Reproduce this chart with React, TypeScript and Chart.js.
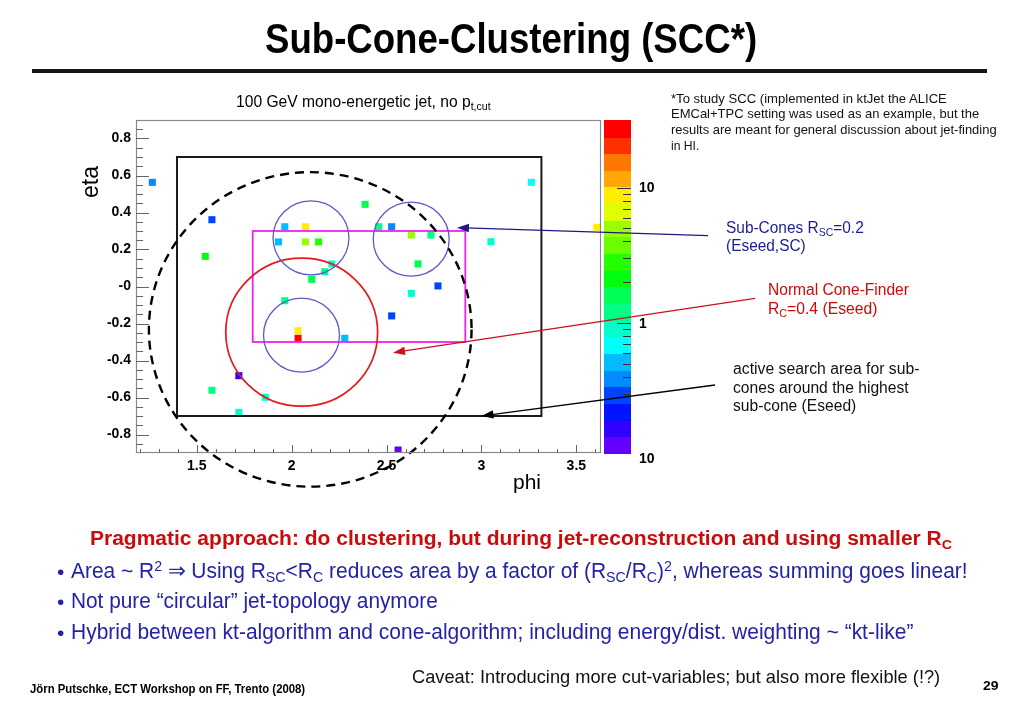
import React, { useEffect, useLayoutEffect, useRef, useState } from 'react';
import { Chart, registerables } from 'chart.js';

Chart.register(...registerables);

// ---------------- data ----------------
const PHI = [1.266, 1.580, 1.545, 1.964, 2.073, 1.931, 2.073, 2.142, 2.212, 2.175, 2.106, 2.387, 3.263, 2.459, 2.527, 2.631,
  2.734, 3.050, 2.666, 2.771, 3.608, 2.631, 2.527, 2.561, 1.964, 2.034, 2.034, 2.280, 1.722, 1.580, 1.861, 1.722];
const ETA = [0.563, 0.361, 0.163, 0.323, 0.323, 0.241, 0.241, 0.241, 0.122, 0.080, 0.039, 0.444, 0.563, 0.323, 0.323, 0.278,
  0.278, 0.242, 0.122, 0.003, 0.320, -0.037, -0.159, -0.884, -0.077, -0.239, -0.280, -0.280, -0.482, -0.561, -0.599, -0.680];
const ENERGY = [0.39, 0.29, 2.1, 0.52, 8.8, 0.52, 5.0, 2.8, 0.91, 1.2, 1.6, 1.6, 0.69, 1.2, 0.39, 5.0,
  1.2, 0.91, 1.6, 0.29, 8.8, 0.91, 0.33, 0.13, 1.2, 8.8, 27, 0.52, 0.17, 1.2, 0.91, 0.9];

const X_TICK_VALUES = [1.5, 2, 2.5, 3, 3.5];
const X_TICK_LABELS = ['1.5', '2', '2.5', '3', '3.5'];
const Y_TICK_VALUES = [-0.8, -0.6, -0.4, -0.2, 0, 0.2, 0.4, 0.6, 0.8];
const Y_TICK_LABELS = ['-0.8', '-0.6', '-0.4', '-0.2', '-0', '0.2', '0.4', '0.6', '0.8'];
const Z_TICK_VALUES = [10, 1, 0.1];
const Z_TICK_LABELS = ['10', '1', '10'];

const PHI_RANGE = [1.18, 3.63];
const ETA_RANGE = [-0.9, 0.9];
const Z_RANGE = [0.109, 31.6];
const N_CONTOURS = 20;

// geometry of the overlays (data units)
const EMCAL_PHI = [1.396, 3.316];
const EMCAL_ETA = [-0.7, 0.7];
const SEARCH_PHI = [1.795, 2.915];
const SEARCH_ETA = [-0.3, 0.3];
const SUBCONE_PHI = [2.102, 2.630, 2.052];
const SUBCONE_ETA = [0.263, 0.256, -0.263];
const R_SC = 0.2;
const CONE_PHI = 2.053;
const CONE_ETA = -0.247;
const R_C = 0.4;
const OUTER_PHI = 2.098;
const OUTER_ETA = -0.232;
const R_OUTER = 0.85;
// arrow tips in data units
const ARROW_TIP_PHI = [2.871, 2.534, 3.0];
const ARROW_TIP_ETA = [0.318, -0.358, -0.70];

const FONT = '"Liberation Sans", Arial, Helvetica, sans-serif';
const NARROW = '"Liberation Sans Narrow", "Liberation Sans", Arial, sans-serif';

function bandColor(i: number) {
  const idx = Math.floor(((i + 0.99) * 50) / N_CONTOURS);
  const hue = 280 - (idx + 1) * 5.6;
  return `hsl(${hue.toFixed(1)}, 100%, 50%)`;
}
function zBand(z: number) {
  const lo = Math.log10(Z_RANGE[0]);
  const hi = Math.log10(Z_RANGE[1]);
  const t = (Math.log10(z) - lo) / (hi - lo);
  return Math.max(0, Math.min(N_CONTOURS - 1, Math.floor(t * N_CONTOURS)));
}

function drawArrow(ctx: CanvasRenderingContext2D, x0: number, y0: number, x1: number, y1: number, color: string) {
  const a = Math.atan2(y1 - y0, x1 - x0);
  const L = 12, H = 4.2;
  const c = Math.cos(a), s = Math.sin(a);
  ctx.strokeStyle = color;
  ctx.fillStyle = color;
  ctx.lineWidth = 1.3;
  ctx.beginPath();
  ctx.moveTo(x0, y0);
  ctx.lineTo(x1 - L * 0.7 * c, y1 - L * 0.7 * s);
  ctx.stroke();
  ctx.beginPath();
  ctx.moveTo(x1, y1);
  ctx.lineTo(x1 - L * c + H * s, y1 - L * s - H * c);
  ctx.lineTo(x1 - L * c - H * s, y1 - L * s + H * c);
  ctx.closePath();
  ctx.fill();
}

const overlayPlugin = {
  id: 'overlay',
  afterDatasetsDraw(chart: any) {
    const { ctx, scales } = chart;
    const sx = scales.x, sy = scales.y;
    const X = (v: number) => sx.getPixelForValue(v);
    const Y = (v: number) => sy.getPixelForValue(v);
    const kx = Math.abs(X(1) - X(0));
    const ky = Math.abs(Y(1) - Y(0));
    ctx.save();
    ctx.strokeStyle = '#1a1a1a';
    ctx.lineWidth = 2;
    ctx.strokeRect(X(EMCAL_PHI[0]), Y(EMCAL_ETA[1]), X(EMCAL_PHI[1]) - X(EMCAL_PHI[0]), Y(EMCAL_ETA[0]) - Y(EMCAL_ETA[1]));
    ctx.strokeStyle = '#f020f0';
    ctx.lineWidth = 1.8;
    ctx.strokeRect(X(SEARCH_PHI[0]), Y(SEARCH_ETA[1]), X(SEARCH_PHI[1]) - X(SEARCH_PHI[0]), Y(SEARCH_ETA[0]) - Y(SEARCH_ETA[1]));
    ctx.strokeStyle = '#e81818';
    ctx.lineWidth = 1.7;
    ctx.beginPath();
    ctx.ellipse(X(CONE_PHI), Y(CONE_ETA), R_C * kx, R_C * ky, 0, 0, Math.PI * 2);
    ctx.stroke();
    ctx.strokeStyle = '#5a5ac8';
    ctx.lineWidth = 1.3;
    for (let i = 0; i < SUBCONE_PHI.length; i++) {
      ctx.beginPath();
      ctx.ellipse(X(SUBCONE_PHI[i]), Y(SUBCONE_ETA[i]), R_SC * kx, R_SC * ky, 0, 0, Math.PI * 2);
      ctx.stroke();
    }
    ctx.strokeStyle = '#000';
    ctx.lineWidth = 2.4;
    ctx.setLineDash([9, 6]);
    ctx.beginPath();
    ctx.ellipse(X(OUTER_PHI), Y(OUTER_ETA), R_OUTER * kx, R_OUTER * ky, 0, 0, Math.PI * 2);
    ctx.stroke();
    ctx.setLineDash([]);
    ctx.restore();
  },
  afterDraw(chart: any) {
    const { ctx, chartArea: a, scales } = chart;
    const sx = scales.x, sy = scales.y;
    ctx.save();
    ctx.strokeStyle = '#8a8a8a';
    ctx.lineWidth = 1.2;
    ctx.strokeRect(a.left + 0.5, a.top + 0.5, a.right - a.left - 1, a.bottom - a.top - 1);
    ctx.strokeStyle = '#666';
    ctx.lineWidth = 1;
    ctx.beginPath();
    for (let k = -17; k <= 17; k++) {
      const py = Math.round(sy.getPixelForValue(k * 0.05)) + 0.5;
      const len = k % 4 === 0 ? 13 : 7;
      ctx.moveTo(a.left, py);
      ctx.lineTo(a.left + len, py);
    }
    for (let k = 12; k <= 36; k++) {
      const px = Math.round(sx.getPixelForValue(k * 0.1)) + 0.5;
      const len = k % 5 === 0 ? 8 : 4;
      ctx.moveTo(px, a.bottom);
      ctx.lineTo(px, a.bottom - len);
    }
    ctx.stroke();

    // colour bar
    const cbL = a.right + 3, cbR = a.right + 30;
    const h = (a.bottom - a.top) / N_CONTOURS;
    for (let i = 0; i < N_CONTOURS; i++) {
      ctx.fillStyle = bandColor(i);
      const y0 = a.bottom - (i + 1) * h;
      ctx.fillRect(cbL, Math.floor(y0), cbR - cbL, Math.ceil(h) + 1);
    }
    const lo = Math.log10(Z_RANGE[0]), hi = Math.log10(Z_RANGE[1]);
    const ZY = (z: number) => a.bottom - ((Math.log10(z) - lo) / (hi - lo)) * (a.bottom - a.top);
    ctx.strokeStyle = '#333';
    ctx.lineWidth = 1;
    ctx.beginPath();
    for (const dec of [0.1, 1]) {
      for (let m = 1; m <= 9; m++) {
        const z = dec * m;
        if (z < Z_RANGE[0]) continue;
        const py = Math.round(ZY(z)) + 0.5;
        const len = m === 1 ? 14 : 8;
        ctx.moveTo(cbR, py);
        ctx.lineTo(cbR - len, py);
      }
    }
    const py10 = Math.round(ZY(10)) + 0.5;
    ctx.moveTo(cbR, py10);
    ctx.lineTo(cbR - 14, py10);
    ctx.stroke();
    ctx.fillStyle = '#000';
    ctx.font = `bold 14px ${FONT}`;
    ctx.textAlign = 'left';
    ctx.textBaseline = 'middle';
    Z_TICK_VALUES.forEach((z, i) => {
      ctx.fillText(Z_TICK_LABELS[i], cbR + 8, ZY(z) + 1);
    });

    // axis titles
    ctx.font = `21px ${FONT}`;
    ctx.textAlign = 'center';
    ctx.fillText('phi', 527, 483);
    ctx.save();
    ctx.translate(92, 182);
    ctx.rotate(-Math.PI / 2);
    ctx.font = `23px ${FONT}`;
    ctx.fillText('eta', 0, 0);
    ctx.restore();

    const tails = [[708, 235.7], [755, 298.3], [715, 385]];
    const colors = ['#1a1a80', '#cc1020', '#000000'];
    for (let i = 0; i < 3; i++) {
      drawArrow(ctx, tails[i][0], tails[i][1], sx.getPixelForValue(ARROW_TIP_PHI[i]), sy.getPixelForValue(ARROW_TIP_ETA[i]), colors[i]);
    }
    ctx.restore();
  },
};

function ChartCanvas() {
  const ref = useRef<HTMLCanvasElement>(null);
  useEffect(() => {
    if (!ref.current) return;
    Chart.defaults.font.family = FONT;
    const points = PHI.map((p, i) => ({ x: p, y: ETA[i] }));
    const colors = ENERGY.map((e) => bandColor(zBand(e)));
    const chart = new Chart(ref.current, {
      type: 'scatter',
      data: {
        datasets: [
          {
            data: points,
            backgroundColor: colors,
            borderWidth: 0,
            pointStyle: 'rect',
            pointRadius: 5,
            pointHoverRadius: 5,
          },
        ],
      },
      options: {
        animation: false,
        responsive: false,
        events: [],
        layout: { padding: { left: 86, top: 120, right: 422, bottom: 225 } },
        plugins: { legend: { display: false }, tooltip: { enabled: false } },
        scales: {
          x: {
            type: 'linear',
            min: PHI_RANGE[0],
            max: PHI_RANGE[1],
            grid: { display: false, drawTicks: false },
            border: { display: false },
            afterFit: (s: any) => { s.height = 30; },
            afterBuildTicks: (s: any) => { s.ticks = X_TICK_VALUES.map((v) => ({ value: v })); },
            ticks: {
              padding: 5,
              color: '#000',
              font: { size: 14, weight: 'bold', family: FONT },
              maxRotation: 0,
              autoSkip: false,
              callback: (_v: any, i: number) => X_TICK_LABELS[i],
            },
          },
          y: {
            type: 'linear',
            min: ETA_RANGE[0],
            max: ETA_RANGE[1],
            grid: { display: false, drawTicks: false },
            border: { display: false },
            afterFit: (s: any) => { s.width = 50; },
            afterBuildTicks: (s: any) => { s.ticks = Y_TICK_VALUES.map((v) => ({ value: v })); },
            ticks: {
              padding: 5,
              color: '#000',
              font: { size: 14, weight: 'bold', family: FONT },
              autoSkip: false,
              callback: (_v: any, i: number) => Y_TICK_LABELS[i],
            },
          },
        },
      },
      plugins: [overlayPlugin],
    } as any);
    return () => chart.destroy();
  }, []);
  return <canvas ref={ref} width={1023} height={708} style={{ position: 'absolute', left: 0, top: 0 }} />;
}

type FTProps = {
  x: number; y: number; w: number; fs: number; bold?: boolean; color?: string; family?: string; children: React.ReactNode;
};
function FitText({ x, y, w, fs, bold, color, family, children }: FTProps) {
  const ref = useRef<HTMLSpanElement>(null);
  const [k, setK] = useState(1);
  useLayoutEffect(() => {
    if (ref.current) {
      const nat = ref.current.offsetWidth;
      if (nat > 0) setK(w / nat);
    }
  }, [w]);
  return (
    <span
      ref={ref}
      style={{
        position: 'absolute',
        left: x,
        top: y - 0.52 * fs,
        fontSize: fs,
        lineHeight: `${fs}px`,
        whiteSpace: 'nowrap',
        fontWeight: bold ? 'bold' : 'normal',
        color: color || '#000',
        fontFamily: family || FONT,
        transform: `scaleX(${k})`,
        transformOrigin: '0 0',
      }}
    >
      {children}
    </span>
  );
}

const Sub = ({ children }: { children: React.ReactNode }) => (
  <span style={{ fontSize: '0.68em', position: 'relative', top: '0.3em', lineHeight: 0 }}>{children}</span>
);
const Sup = ({ children }: { children: React.ReactNode }) => (
  <span style={{ fontSize: '0.68em', position: 'relative', top: '-0.45em', lineHeight: 0 }}>{children}</span>
);

const NAVY = '#1c1c8e';
const BLUE = '#2323a6';
const RED = '#cc0a0a';

export default function App() {
  return (
    <div style={{ position: 'fixed', left: 0, top: 0, width: 1023, height: 708, background: '#fff', overflow: 'hidden', fontFamily: FONT }}>
      <ChartCanvas />
      <FitText x={265} y={39} w={492} fs={43} bold family={NARROW}>
        Sub-Cone-Clustering (SCC*)
      </FitText>
      <div style={{ position: 'absolute', left: 32, top: 69, width: 955, height: 4, background: '#151515' }} />

      <FitText x={236} y={102} w={255} fs={16}>
        100 GeV mono-energetic jet, no p<Sub>t,cut</Sub>
      </FitText>

      <FitText x={671} y={98.3} w={276} fs={13} color="#111">*To study SCC (implemented in ktJet the ALICE</FitText>
      <FitText x={671} y={114} w={308} fs={13} color="#111">EMCal+TPC setting was used as an example, but the</FitText>
      <FitText x={671} y={129.8} w={326} fs={13} color="#111">results are meant for general discussion about jet-finding</FitText>
      <FitText x={671} y={146} w={28} fs={13} color="#111">in HI.</FitText>

      <FitText x={726} y={228} w={138} fs={16} color={NAVY}>
        Sub-Cones R<Sub>SC</Sub>=0.2
      </FitText>
      <FitText x={726} y={246.5} w={80} fs={16} color={NAVY}>(Eseed,SC)</FitText>

      <FitText x={768} y={290} w={141} fs={16} color={RED}>Normal Cone-Finder</FitText>
      <FitText x={768} y={309} w={109} fs={16} color={RED}>
        R<Sub>C</Sub>=0.4 (Eseed)
      </FitText>

      <FitText x={733} y={369} w={186} fs={16} color="#111">active search area for sub-</FitText>
      <FitText x={733} y={388} w={176} fs={16} color="#111">cones around the highest</FitText>
      <FitText x={733} y={406.5} w={123} fs={16} color="#111">sub-cone (Eseed)</FitText>

      <FitText x={90} y={538} w={862} fs={20} bold color={RED}>
        Pragmatic approach: do clustering, but during jet-reconstruction and using smaller R<Sub>C</Sub>
      </FitText>

      <FitText x={57} y={572} w={7} fs={21}>
        <span style={{ color: BLUE }}>•</span>
      </FitText>
      <FitText x={71} y={572} w={897} fs={21.5} color={BLUE}>
        Area ~ R<Sup>2</Sup> ⇒ Using R<Sub>SC</Sub>&lt;R<Sub>C</Sub> reduces area by a factor of (R<Sub>SC</Sub>/R<Sub>C</Sub>)<Sup>2</Sup>, whereas summing goes linear!
      </FitText>
      <FitText x={57} y={602} w={7} fs={21}>
        <span style={{ color: BLUE }}>•</span>
      </FitText>
      <FitText x={71} y={602} w={367} fs={21.5} color={BLUE}>
        Not pure “circular” jet-topology anymore
      </FitText>
      <FitText x={57} y={633} w={7} fs={21}>
        <span style={{ color: BLUE }}>•</span>
      </FitText>
      <FitText x={71} y={633} w={842} fs={21.5} color={BLUE}>
        Hybrid between kt-algorithm and cone-algorithm; including energy/dist. weighting ~ “kt-like”
      </FitText>

      <FitText x={412} y={677} w={528} fs={19} color="#111">
        Caveat: Introducing more cut-variables; but also more flexible (!?)
      </FitText>

      <FitText x={30} y={689} w={275} fs={12} bold family={NARROW}>
        Jörn Putschke, ECT Workshop on FF, Trento (2008)
      </FitText>
      <FitText x={983} y={686} w={15} fs={13} bold family={NARROW}>
        29
      </FitText>
    </div>
  );
}
